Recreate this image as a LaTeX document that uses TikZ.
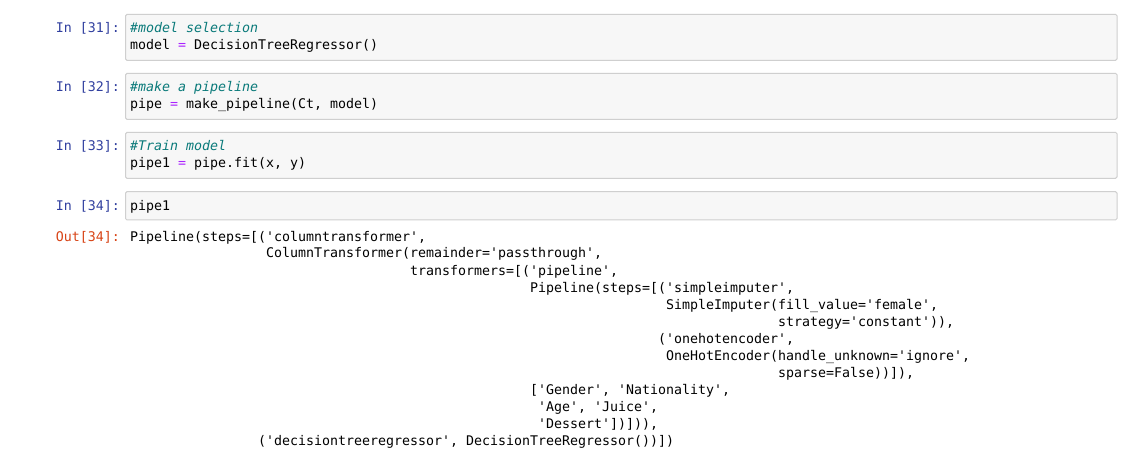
\documentclass[tikz,border=0pt]{standalone}
\usepackage{fontspec}
\setmonofont{DejaVu Sans Mono}
\definecolor{cellbg}{HTML}{F7F7F7}
\definecolor{cellbd}{HTML}{CFCFCF}
\definecolor{inprompt}{HTML}{303F9F}
\definecolor{outprompt}{HTML}{D84315}
\definecolor{cmt}{HTML}{0A7A7A}
\definecolor{eqc}{HTML}{AA22FF}
\tikzset{
  cellbox/.style={draw=cellbd, fill=cellbg, line width=1pt, rounded corners=1.5pt},
  code/.style={anchor=base west, inner sep=0pt, outer sep=0pt, text=black,
    font=\ttfamily\fontsize{13.29}{17}\selectfont\frenchspacing},
  comment/.style={code, text=cmt, font=\ttfamily\itshape\fontsize{13.29}{17}\selectfont},
  inp/.style={anchor=base east, inner sep=0pt, text=inprompt,
    font=\ttfamily\fontsize{13.29}{17}\selectfont},
  outp/.style={inp, text=outprompt}
}
\begin{document}
\begin{tikzpicture}[x=1pt,y=-1pt]
\fill[white] (0,0) rectangle (1135,465);
\useasboundingbox (0,0) rectangle (1135,465);
% cell boxes
\draw[cellbox] (125.5,14.3) rectangle (1117,60.3);
\draw[cellbox] (125.5,73.3) rectangle (1117,119.3);
\draw[cellbox] (125.5,132.3) rectangle (1117,178.3);
\draw[cellbox] (125.5,191.7) rectangle (1117,220);
% cell 31
\node[inp] (p31) at (120,32.3) {In [31]:};
\node[comment] (c31a) at (130,32.3) {\#model selection};
\node[code] (c31b) at (130,49.3) {model \textcolor{eqc}{=} DecisionTreeRegressor()};
% cell 32
\node[inp] (p32) at (120,91.5) {In [32]:};
\node[comment] (c32a) at (130,91.5) {\#make a pipeline};
\node[code] (c32b) at (130,108.5) {pipe \textcolor{eqc}{=} make\_pipeline(Ct, model)};
% cell 33
\node[inp] (p33) at (120,150.5) {In [33]:};
\node[comment] (c33a) at (130,150.5) {\#Train model};
\node[code] (c33b) at (130,167.5) {pipe1 \textcolor{eqc}{=} pipe.fit(x, y)};
% cell 34
\node[inp] (p34) at (120,210.5) {In [34]:};
\node[code] (c34a) at (130,210.5) {pipe1};
% output
\node[outp] (o34) at (120,241) {Out[34]:};
\node[code] (l0)  at (130+0*8,241+0*17)  {Pipeline(steps=[('columntransformer',};
\node[code] (l1)  at (130+17*8,241+1*17) {ColumnTransformer(remainder='passthrough',};
\node[code] (l2)  at (130+35*8,241+2*17) {transformers=[('pipeline',};
\node[code] (l3)  at (130+50*8,241+3*17) {Pipeline(steps=[('simpleimputer',};
\node[code] (l4)  at (130+67*8,241+4*17) {SimpleImputer(fill\_value='female',};
\node[code] (l5)  at (130+81*8,241+5*17) {strategy='constant')),};
\node[code] (l6)  at (130+66*8,241+6*17) {('onehotencoder',};
\node[code] (l7)  at (130+67*8,241+7*17) {OneHotEncoder(handle\_unknown='ignore',};
\node[code] (l8)  at (130+81*8,241+8*17) {sparse=False))]),};
\node[code] (l9)  at (130+50*8,241+9*17) {['Gender', 'Nationality',};
\node[code] (l10) at (130+51*8,241+10*17) {'Age', 'Juice',};
\node[code] (l11) at (130+51*8,241+11*17) {'Dessert'])])),};
\node[code] (l12) at (130+16*8,241+12*17) {('decisiontreeregressor', DecisionTreeRegressor())])};
\end{tikzpicture}
\end{document}
